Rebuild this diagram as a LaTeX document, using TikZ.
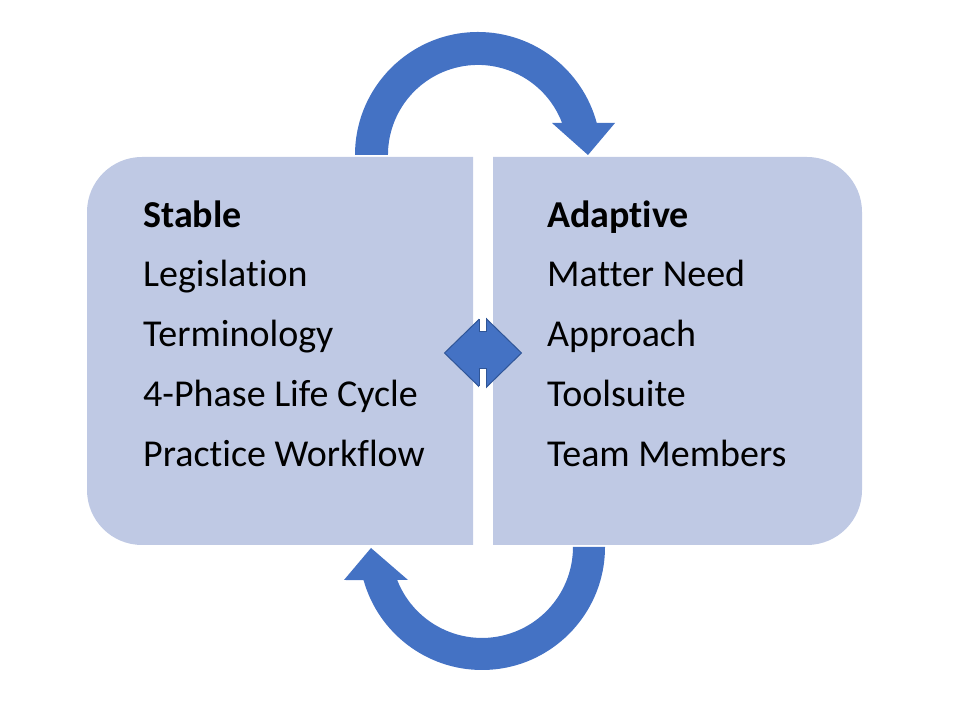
\documentclass[tikz,border=0pt]{standalone}
\usepackage{fontspec}
\setmainfont[Ligatures={NoCommon,NoDiscretionary,NoContextual}]{Carlito}
\begin{document}
\begin{tikzpicture}[x=1pt,y=1pt,
  box/.style={fill=boxc},
  arr/.style={fill=arrc},
  lbl/.style={anchor=base west,inner sep=0pt,font=\fontsize{38}{44}\selectfont}]
\definecolor{boxc}{HTML}{BFC9E4}
\definecolor{arrc}{HTML}{4472C4}
\definecolor{arrd}{HTML}{2F5597}
\useasboundingbox (0,0) rectangle (953,708);
% boxes
\fill[box] (473,163) -- (142,163) arc(270:180:55) -- (87,496) arc(180:90:55) -- (473,551) -- cycle;
\fill[box] (493,163) -- (807,163) arc(270:360:55) -- (862,496) arc(0:90:55) -- (493,551) -- cycle;
% top arrow
\fill[arr] (355,553) arc(180:15.1:123) -- (615,585) -- (588,553) -- (552,585) -- (562.1,585) arc(20.8:180:90) -- cycle;
% bottom arrow
\fill[arr] (605,161) arc(0:-164.4:123) -- (344,128) -- (371,160) -- (408,128) -- (397.2,128) arc(-158.7:0:91) -- cycle;
% diamond
\draw[draw=arrd,fill=arrc,line width=1pt] (444.5,355) -- (483,392.5) -- (521.5,355) -- (483,317.5) -- cycle;
\fill[white] (479,376) rectangle (486,396);
\fill[white] (479,314) rectangle (486,339);
\draw[arrd,line width=1pt] (479,388.5) -- (479,376) -- (486,376) -- (486,389.5);
\draw[arrd,line width=1pt] (479,321.5) -- (479,339) -- (486,339) -- (486,320.5);
% texts
\node[lbl,font=\fontsize{38}{44}\selectfont\bfseries] (s0) at (143,480) {Stable};
\node[lbl] (s1) at (143,421) {Legislation};
\node[lbl] (s2) at (143,361) {Terminology};
\node[lbl] (s3) at (143,301) {4-Phase Life Cycle};
\node[lbl] (s4) at (143,241) {Practice Workflow};
\node[lbl,font=\fontsize{38}{44}\selectfont\bfseries] (a0) at (547,480) {Adaptive};
\node[lbl] (a1) at (547,421) {Matter Need};
\node[lbl] (a2) at (547,361) {Approach};
\node[lbl] (a3) at (547,301) {Toolsuite};
\node[lbl] (a4) at (547,241) {Team Members};
\end{tikzpicture}
\end{document}
